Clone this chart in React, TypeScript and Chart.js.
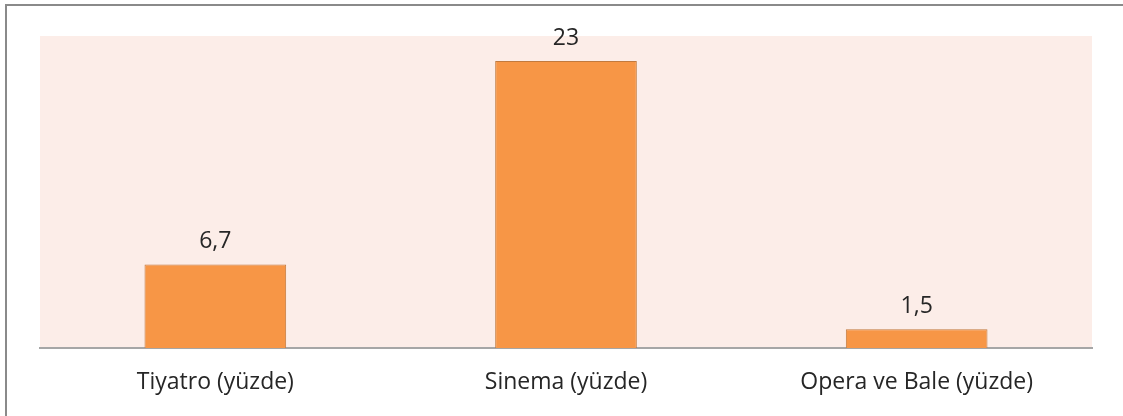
import React, { useEffect, useRef } from "react";
import { Chart, registerables } from "chart.js";

Chart.register(...registerables);

const categories = ["Tiyatro (yüzde)", "Sinema (yüzde)", "Opera ve Bale (yüzde)"];
const values = [6.7, 23, 1.5];
const valueLabels = ["6,7", "23", "1,5"];

const FONT = "'Open Sans', sans-serif";

export default function App() {
  const ref = useRef<HTMLCanvasElement | null>(null);
  useEffect(() => {
    document.body.style.margin = "0";
    const canvas = ref.current!;
    const bgPlugin = {
      id: "bg",
      beforeDraw(chart: any) {
        const { ctx, chartArea } = chart;
        ctx.save();
        ctx.fillStyle = "#ffffff";
        ctx.fillRect(0, 0, chart.width, chart.height);
        ctx.fillStyle = "#fcede8";
        ctx.fillRect(chartArea.left, chartArea.top, chartArea.right - chartArea.left, chartArea.bottom - chartArea.top);
        ctx.fillStyle = "#8a8a8a";
        ctx.fillRect(5, 4, chart.width - 5, 2);
        ctx.fillRect(5, 4, 2, chart.height - 4);
        ctx.restore();
      },
      afterDatasetsDraw(chart: any) {
        const { ctx } = chart;
        const meta = chart.getDatasetMeta(0);
        ctx.save();
        ctx.fillStyle = "#262626";
        ctx.font = `23px ${FONT}`;
        ctx.textAlign = "center";
        ctx.textBaseline = "middle";
        meta.data.forEach((bar: any, i: number) => {
          ctx.fillText(valueLabels[i], bar.x, bar.y - 23);
        });
        ctx.restore();
      },
    };
    const chart = new Chart(canvas, {
      type: "bar",
      data: {
        labels: categories,
        datasets: [
          {
            data: values,
            backgroundColor: "#f79646",
            borderColor: "#c27a3e",
            borderWidth: 1,
            categoryPercentage: 0.8,
            barPercentage: 0.505,
          },
        ],
      },
      options: {
        animation: false,
        responsive: false,
        maintainAspectRatio: false,
        layout: { padding: { left: 40, right: 31, top: 36, bottom: 0 } },
        plugins: { legend: { display: false }, tooltip: { enabled: false } },
        scales: {
          x: {
            grid: { display: false, drawTicks: false },
            border: { display: true, color: "#a6a6a6", width: 2 },
            ticks: { color: "#262626", font: { family: FONT, size: 23 }, padding: 21, maxRotation: 0 },
            afterFit(scale: any) {
              scale.height = 68;
            },
          },
          y: {
            display: false,
            min: 0,
            max: 25,
          },
        },
      },
      plugins: [bgPlugin],
    });
    return () => chart.destroy();
  }, []);
  return (
    <div style={{ position: "fixed", left: 0, top: 0, width: 1123, height: 416 }}>
      <canvas ref={ref} width={1123} height={416} style={{ width: 1123, height: 416 }} />
    </div>
  );
}
